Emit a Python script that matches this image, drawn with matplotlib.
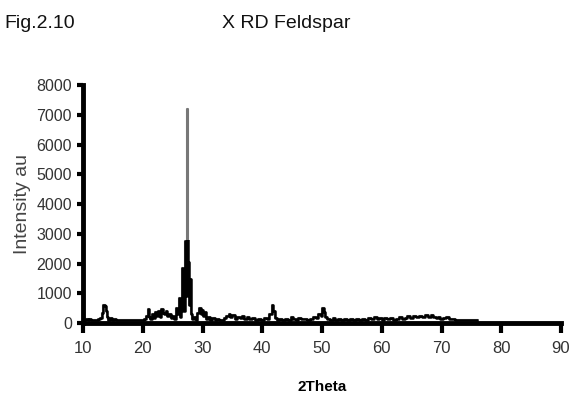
import matplotlib
matplotlib.use("Agg")
from matplotlib import pyplot as plt
from matplotlib.patches import Rectangle

# 2theta / intensity
two_theta = [10.0, 10.3, 10.6, 10.9, 11.2, 11.5, 11.8, 12.1, 12.4, 12.7, 13.0, 13.3, 13.5, 13.7, 13.9,
             14.1, 14.4, 14.7, 15.0, 15.3, 15.6, 16.0, 16.5, 17.0, 17.5, 18.0, 18.5, 19.0, 19.5, 20.0,
             20.4, 20.7, 20.9, 21.1, 21.4, 21.7, 21.9, 22.2, 22.4, 22.7, 22.9, 23.2, 23.4, 23.7, 24.0,
             24.2, 24.5, 24.8, 25.1, 25.4, 25.7, 25.9, 26.1, 26.3, 26.5, 26.7, 26.9, 27.1, 27.3, 27.45,
             27.55, 27.7, 27.9, 28.0, 28.2, 28.4, 28.7, 29.0, 29.3, 29.6, 29.8, 30.0, 30.2, 30.5, 30.8,
             31.1, 31.4, 31.8, 32.2, 32.6, 33.0, 33.4, 33.8, 34.2, 34.5, 34.8, 35.2, 35.6, 36.0, 36.4,
             36.8, 37.2, 37.6, 38.0, 38.5, 39.0, 39.5, 40.0, 40.5, 41.0, 41.4, 41.7, 41.9, 42.2, 42.6,
             43.0, 43.5, 44.0, 44.5, 45.0, 45.4, 45.8, 46.3, 46.8, 47.3, 47.8, 48.3, 48.8, 49.2, 49.6,
             49.9, 50.2, 50.4, 50.7, 51.0, 51.5, 52.0, 52.5, 53.0, 53.5, 54.0, 54.5, 55.0, 55.5, 56.0,
             56.5, 57.0, 57.5, 58.0, 58.5, 59.0, 59.4, 59.8, 60.2, 60.7, 61.2, 61.7, 62.2, 62.7, 63.2,
             63.6, 64.0, 64.5, 65.0, 65.5, 66.0, 66.5, 67.0, 67.5, 68.0, 68.4, 68.8, 69.2, 69.6, 70.0,
             70.5, 71.0, 71.5, 72.0, 72.5, 73.0, 73.5, 74.0, 74.5, 75.0, 75.5, 76.0]
intensity = [120, 90, 150, 100, 130, 95, 110, 90, 120, 140, 180, 350, 620, 580, 400,
             200, 120, 180, 110, 140, 100, 90, 100, 95, 105, 95, 100, 90, 110, 100,
             130, 250, 460, 200, 150, 300, 180, 380, 250, 420, 200, 480, 350, 300, 400,
             250, 320, 180, 250, 150, 520, 300, 850, 200, 600, 1850, 400, 2750, 900, 7200,
             1200, 2050, 600, 1500, 300, 150, 200, 120, 350, 500, 300, 450, 250, 380, 150,
             200, 120, 180, 110, 150, 120, 100, 180, 250, 300, 200, 280, 150, 220, 180,
             240, 150, 200, 130, 180, 110, 150, 120, 160, 140, 300, 620, 400, 180, 120,
             150, 110, 140, 120, 200, 150, 120, 180, 130, 150, 110, 140, 200, 180, 300,
             250, 520, 380, 200, 150, 120, 160, 110, 140, 120, 130, 110, 150, 120, 140,
             110, 130, 120, 160, 130, 200, 140, 180, 120, 160, 130, 180, 120, 150, 200,
             140, 180, 230, 180, 240, 200, 250, 220, 260, 200, 280, 220, 180, 200, 150,
             170, 200, 150, 130, 120, 110, 115, 105, 110, 100, 105, 100]

xticks = [10, 20, 30, 40, 50, 60, 70, 80, 90]
yticks = [0, 1000, 2000, 3000, 4000, 5000, 6000, 7000, 8000]

plt.rcParams['font.family'] = ['Liberation Sans', 'DejaVu Sans']

fig = plt.figure(figsize=(5.69, 3.98), dpi=100)
ax = fig.add_axes([0.146, 0.188, 0.840, 0.598])

# thin grey trace underneath, black trace clipped below the top of the main peak
ax.plot(two_theta, intensity, color='#777777', linewidth=1.5, drawstyle='steps-mid')
black, = ax.plot(two_theta, intensity, color='black', linewidth=1.8, drawstyle='steps-mid')
clip = Rectangle((0, -1000), 100, 3800, transform=ax.transData)
black.set_clip_path(clip)

ax.set_xlim(10, 90)
ax.set_ylim(0, 8000)
ax.set_xticks(xticks)
ax.set_yticks(yticks)
ax.tick_params(axis='x', direction='out', length=7, width=3, pad=6, labelsize=12, labelcolor='#333333')
ax.tick_params(axis='y', direction='out', length=4, width=3, pad=4, labelsize=11.5, labelcolor='#333333')
for side in ['top', 'right']:
    ax.spines[side].set_visible(False)
for side in ['left', 'bottom']:
    ax.spines[side].set_linewidth(3.5)

ax.set_xlabel('2Theta', fontsize=11, fontweight='bold', labelpad=17)
ax.set_ylabel('Intensity au', fontsize=14, color='#444444', labelpad=4)

fig.text(0.007, 0.94, 'Fig.2.10', fontsize=14, va='center', color='#111111')
fig.text(0.503, 0.94, 'X RD Feldspar', fontsize=14, va='center', ha='center', color='#111111')

fig.savefig('out.png', dpi=100)
